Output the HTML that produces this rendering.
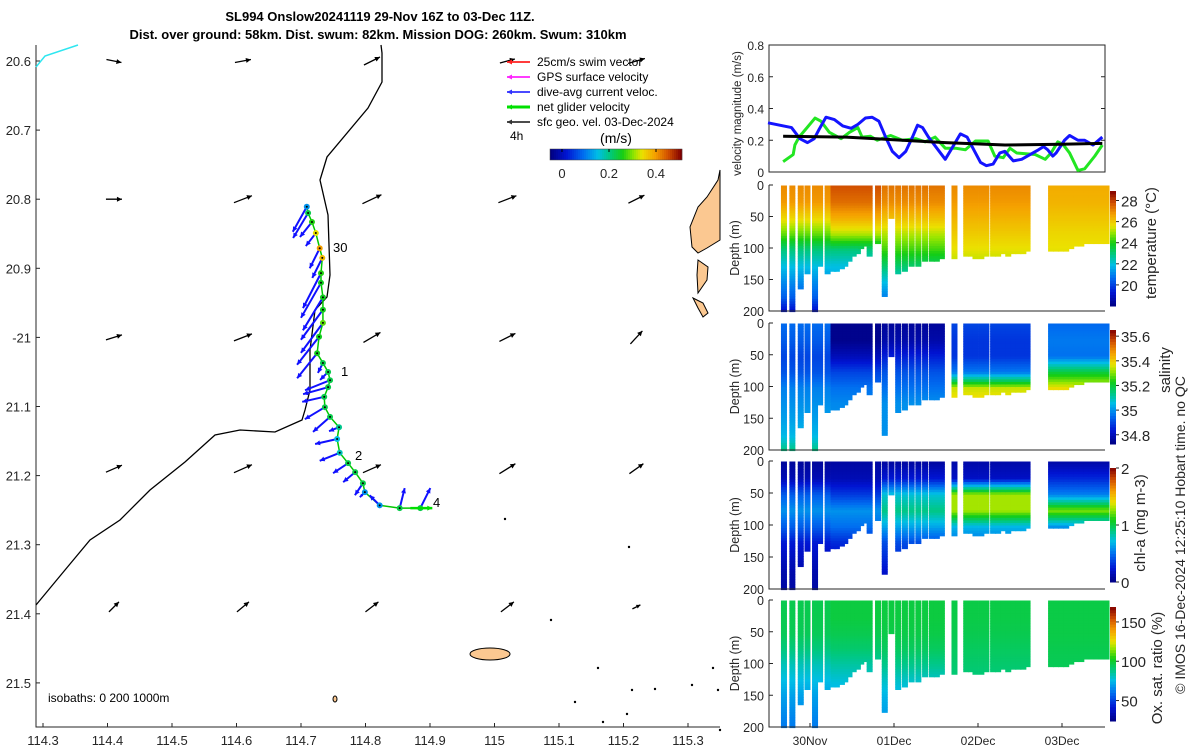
<!DOCTYPE html>
<html><head><meta charset="utf-8"><style>
body{margin:0;background:#fff;}
svg{display:block;font-family:"Liberation Sans",sans-serif;}
</style></head><body>
<svg id="svg" width="1200" height="750" viewBox="0 0 1200 750" xmlns="http://www.w3.org/2000/svg">
<g id="title" font-weight="bold" font-size="13" text-anchor="middle" fill="#000">
<text x="380" y="21">SL994 Onslow20241119 29-Nov 16Z to 03-Dec 11Z.</text>
<text x="378" y="39">Dist. over ground: 58km. Dist. swum: 82km. Mission DOG: 260km. Swum: 310km</text>
</g>
<g id="map"></g>
<g id="right"></g>
</svg>
<script>
// ---------- data ----------
const latTicks=[20.6,20.7,20.8,20.9,21.0,21.1,21.2,21.3,21.4,21.5];
const latTickLabels=["20.6","20.7","20.8","20.9","-21","21.1","21.2","21.3","21.4","21.5"];
const lonTicks=[114.3,114.4,114.5,114.6,114.7,114.8,114.9,115.0,115.1,115.2,115.3];
const lonTickLabels=["114.3","114.4","114.5","114.6","114.7","114.8","114.9","115","115.1","115.2","115.3"];
const trackLon=[114.709,114.711,114.717,114.723,114.729,114.733,114.731,114.731,114.734,114.734,114.734,114.728,114.725,114.734,114.742,114.745,114.742,114.736,114.737,114.745,114.759,114.756,114.760,114.773,114.784,114.796,114.799,114.822,114.853,114.885];
const trackLat=[20.811,20.820,20.833,20.849,20.871,20.885,20.907,20.921,20.942,20.960,20.979,20.999,21.023,21.037,21.050,21.062,21.072,21.086,21.101,21.115,21.130,21.147,21.167,21.182,21.195,21.211,21.224,21.243,21.247,21.247];
const currU=[-0.14,-0.15,-0.12,-0.1,-0.1,-0.1,-0.18,-0.2,-0.2,-0.22,-0.22,-0.22,-0.2,-0.05,-0.08,-0.25,-0.25,-0.22,-0.2,-0.17,-0.1,-0.22,-0.2,-0.15,-0.12,-0.08,-0.05,-0.1,0.05,0.1];
const currV=[-0.25,-0.25,-0.15,-0.13,-0.2,-0.2,-0.35,-0.35,-0.33,-0.3,-0.3,-0.28,-0.25,-0.1,-0.08,-0.1,-0.07,-0.05,-0.12,-0.15,-0.04,-0.05,-0.08,-0.1,-0.1,-0.12,-0.05,0.1,0.2,0.2];
const netSpeed=[0.15,0.25,0.28,0.35,0.4,0.38,0.28,0.27,0.27,0.27,0.3,0.27,0.27,0.25,0.25,0.25,0.25,0.25,0.25,0.25,0.22,0.18,0.2,0.25,0.25,0.25,0.15,0.15,0.25,0.25];
const geoLon=[114.41,114.61,114.81,115.02,115.22];
const geoLat=[20.6,20.8,21.0,21.19,21.39];
const geoU=[[0.15,0.16,0.16,0.15,0.17],[0.16,0.18,0.19,0.18,0.16],[0.16,0.18,0.17,0.16,0.12],[0.16,0.18,0.18,0.16,0.14],[0.1,0.12,0.13,0.13,0.08]];
const geoV=[[-0.03,0.03,0.08,0.04,0.05],[0,0.07,0.09,0.07,0.08],[0.05,0.07,0.1,0.08,0.13],[0.07,0.08,0.08,0.1,0.1],[0.1,0.1,0.1,0.1,0.04]];
// velocity time series (t = days since 29-Nov 00Z)
const blueT=[0.50,0.78,0.88,0.97,1.05,1.11,1.19,1.29,1.39,1.49,1.57,1.66,1.74,1.82,1.90,1.98,2.06,2.14,2.22,2.28,2.34,2.41,2.51,2.61,2.69,2.79,2.87,2.95,3.03,3.10,3.18,3.26,3.32,3.42,3.52,3.62,3.72,3.78,3.83,3.89,3.93,4.03,4.09,4.19,4.27,4.37,4.48];
const blueV=[0.31,0.28,0.21,0.185,0.21,0.27,0.345,0.33,0.29,0.275,0.30,0.34,0.345,0.32,0.22,0.13,0.09,0.13,0.22,0.295,0.28,0.22,0.15,0.08,0.15,0.24,0.22,0.14,0.06,0.04,0.05,0.12,0.13,0.07,0.08,0.11,0.14,0.16,0.14,0.10,0.12,0.20,0.23,0.20,0.20,0.17,0.22];
const greenT=[0.68,0.80,0.82,0.87,0.95,1.06,1.13,1.23,1.37,1.47,1.57,1.62,1.72,1.80,1.96,2.10,2.26,2.37,2.49,2.61,2.73,2.85,2.97,3.12,3.20,3.30,3.38,3.46,3.68,3.80,3.87,3.95,4.01,4.09,4.19,4.27,4.39,4.48];
const greenV=[0.065,0.11,0.17,0.22,0.27,0.34,0.32,0.25,0.21,0.25,0.28,0.22,0.225,0.20,0.23,0.20,0.21,0.19,0.22,0.15,0.15,0.14,0.195,0.195,0.10,0.09,0.15,0.12,0.11,0.08,0.12,0.19,0.175,0.12,0.01,0.02,0.10,0.17];
const geoT=[0.68,1.43,2.10,2.61,3.32,3.99,4.48];
const geoSeries=[0.225,0.22,0.20,0.185,0.17,0.175,0.18];
// glider casts
const castT=[0.69,0.79,0.89,0.97,1.06,1.12,1.21,1.28,1.32,1.38,1.42,1.47,1.52,1.57,1.61,1.66,1.71,1.81,1.89,1.97,2.05,2.13,2.21,2.29,2.37,2.45,2.51,2.57,2.72,2.86,2.92,2.97,3.04,3.10,3.18,3.24,3.30,3.36,3.42,3.48,3.54,3.59,3.87,3.93,3.99,4.05,4.11,4.17,4.23,4.29,4.35,4.41,4.47,4.53];
const castDepth=[200,200,162,140,200,125,138,133,135,130,125,118,110,105,100,95,112,92,176,50,140,133,128,127,120,120,118,115,113,110,112,113,113,110,110,110,108,110,107,106,105,104,103,103,103,102,98,95,93,92,92,91,90,90];
const segStart=[0,1.26,1.85,2.65,3.7];
const depthLevels=[0,25,50,75,100,125,150,175,200];
const tempProf=[[27.0,26.8,25.8,24.6,23,22,21.2,20.5,19],[27.8,27.4,26.5,25.2,23,22,21.5,21,20.5],[27.3,27.0,26.2,25.2,24.3,23.2,22,21,20],[27,26.8,26.4,26,25.6,25.2,24.5,24,23],[26.5,26.4,26.1,25.8,25.6,25.3,25,24.8,24.5]];
const salProf=[[34.95,34.93,34.9,34.92,34.98,35.0,35.02,35.05,35.15],[34.74,34.74,34.8,34.9,34.96,34.99,35.0,35.0,35.0],[34.76,34.78,34.85,34.92,34.96,35.0,35.0,35.0,35.0],[34.9,34.88,34.88,34.97,35.35,35.4,35.4,35.4,35.4],[34.95,34.97,34.96,35.2,35.38,35.4,35.4,35.4,35.4]];
const chlProf=[[0.08,0.15,0.45,0.6,0.45,0.25,0.18,0.12,0.1],[0.1,0.15,0.35,0.6,0.5,0.3,0.2,0.15,0.1],[0.1,0.25,0.75,0.9,0.65,0.4,0.3,0.2,0.1],[0.12,0.2,1.3,1.3,0.7,0.5,0.4,0.3,0.2],[0.12,0.3,0.55,1.25,0.6,0.5,0.4,0.3,0.2]];
const oxyProf=[[96,96,95,90,82,76,70,66,62],[98,98,96,92,85,78,72,68,65],[98,98,97,94,88,80,74,70,66],[97,97,96,94,92,90,88,86,84],[97,97,97,96,95,94,93,92,92]];
// coastline / land (pixel geometry)
const isobath=[[381,45],[382,53],[382,82],[368,108],[327,157],[320,180],[328,215],[330,275],[327,297],[315,310],[310,350],[310,390],[305,410],[302,420],[275,432],[240,430],[215,435],[185,462],[150,490],[120,520],[90,540],[65,570],[36,605]];
const cyanLine=[[36,67],[45,56],[78,45]];
const land1=[[720,170],[718,180],[707,197],[698,207],[690,227],[692,247],[698,253],[707,248],[720,240]];
const land2=[[698,260],[708,267],[707,280],[698,293],[697,275]];
const land3=[[693,298],[703,303],[708,313],[703,317],[698,308]];

// ---------- helpers ----------
const NS="http://www.w3.org/2000/svg";
function mk(tag,attrs,parent){const e=document.createElementNS(NS,tag);for(const k in attrs)e.setAttribute(k,attrs[k]);parent.appendChild(e);return e;}
const cmStops=[[0,[0,0,130]],[0.12,[0,20,210]],[0.25,[0,110,240]],[0.36,[0,190,230]],[0.45,[0,200,130]],[0.55,[20,205,20]],[0.64,[150,230,0]],[0.7,[235,225,0]],[0.8,[245,160,0]],[0.9,[210,80,0]],[1,[130,0,0]]];
function jet(v){v=Math.max(0,Math.min(1,v));for(let i=1;i<cmStops.length;i++){if(v<=cmStops[i][0]){const a=cmStops[i-1],b=cmStops[i],f=(v-a[0])/(b[0]-a[0]);return `rgb(${a[1].map((c,k)=>Math.round(c+(b[1][k]-c)*f)).join(',')})`;}}return 'rgb(130,0,0)';}
const map=document.getElementById('map');
const lonX=l=>43+(l-114.3)*645;
const latY=l=>61+(l-20.6)*691;
function arrow(parent,x,y,dx,dy,color,w,name){
  const g=mk('g',{},parent);
  
  
  const L=Math.hypot(dx,dy)||1,ux=dx/L,uy=dy/L,h=Math.min(5,L*0.45);
  mk('line',{x1:x,y1:y,x2:x+dx,y2:y+dy,stroke:color,'stroke-width':w},g);
  const tx=x+dx,ty=y+dy,bx=tx-ux*h,by=ty-uy*h;
  mk('polygon',{points:`${tx},${ty} ${bx-uy*h*0.5},${by+ux*h*0.5} ${bx+uy*h*0.5},${by-ux*h*0.5}`,fill:color},g);
}
// ---------- map ----------
mk('path',{d:'M36,45 V727 H720',fill:'none',stroke:'#262626','stroke-width':1,},map);
latTicks.forEach((v,i)=>{
  const y=latY(v);
  mk('line',{x1:36,y1:y,x2:40,y2:y,stroke:'#262626'},map);
  const t=mk('text',{x:31,y:y+5,'text-anchor':'end','font-size':13,fill:'#262626'},map);
  t.textContent=latTickLabels[i];
  
  
});
lonTicks.forEach((v,i)=>{
  const x=lonX(v);
  mk('line',{x1:x,y1:727,x2:x,y2:723,stroke:'#262626'},map);
  const t=mk('text',{x:x,y:745,'text-anchor':'middle','font-size':13,fill:'#262626'},map);
  t.textContent=lonTickLabels[i];
  
  
});
const pts=a=>a.map(p=>p.join(',')).join(' ');
mk('polyline',{points:pts(isobath),fill:'none',stroke:'#000','stroke-width':1.3,},map);
mk('polyline',{points:pts(cyanLine),fill:'none',stroke:'#2ee6f0','stroke-width':1.5,},map);
[land1,land2,land3].forEach(l=>{const p=mk('polygon',{points:pts(l),fill:'#fbc891',stroke:'#000','stroke-width':1},map);});
mk('ellipse',{cx:490,cy:654,rx:20,ry:6,fill:'#fbc891',stroke:'#000','stroke-width':1,},map);
mk('ellipse',{cx:335,cy:699,rx:2,ry:3,fill:'#fbc891',stroke:'#000','stroke-width':1,},map);
[[505,519],[551,620],[598,668],[629,547],[575,702],[603,722],[632,690],[655,689],[627,714],[692,685],[718,690],[713,668],[720,730]].forEach(p=>mk('circle',{cx:p[0],cy:p[1],r:1.2,fill:'#000',},map));
// geostrophic arrows
geoLat.forEach((la,r)=>geoLon.forEach((lo,c)=>{
  const dx=geoU[r][c]*100,dy=-geoV[r][c]*100;
  arrow(map,lonX(lo)-dx/2,latY(la)-dy/2,dx,dy,'#000',1.3,'geo-velocity-arrow');
}));
// track
const tx=trackLon.map(lonX),ty=trackLat.map(latY);
mk('polyline',{points:tx.map((x,i)=>x+','+ty[i]).join(' '),fill:'none',stroke:'#00c800','stroke-width':1.5,},map);
tx.forEach((x,i)=>arrow(map,x,ty[i],currU[i]*100,-currV[i]*100,'#1010ff',2,'dive-avg-current-arrow'));
tx.forEach((x,i)=>{const c=mk('circle',{cx:x,cy:ty[i],r:3,fill:jet(netSpeed[i]/0.5),stroke:'none'},map);mk('circle',{cx:x,cy:ty[i],r:1,fill:'#000'},map);});
arrow(map,tx[tx.length-1]-10,ty[ty.length-1],22,0,'#00e000',2.5,'net-glider-velocity-arrow');
[["30",333,252],["1",341,376],["2",355,460],["4",433,507]].forEach(a=>{const t=mk('text',{x:a[1],y:a[2],'font-size':13,fill:'#000'},map);t.textContent=a[0];});
// legend
const lg=mk('g',{},map);
[["25cm/s swim vector","#ff2020"],["GPS surface velocity","#ff20ff"],["dive-avg current veloc.","#3030ff"],["net glider velocity","#00e000"],["sfc geo. vel. 03-Dec-2024","#333"]].forEach((e,i)=>{
  const y=62+i*15;
  const g=mk('g',{},lg);
  
  
  arrow(g,530,y,-23,0,e[1],i==3?3:1.8,'legend-arrow');
  const t=mk('text',{x:537,y:y+4,'font-size':12,fill:'#000'},g);t.textContent=e[0];
});
const t4=mk('text',{x:510,y:140,'font-size':12,fill:'#000',},map);t4.textContent='4h';
const tu=mk('text',{x:616,y:143,'font-size':14,'text-anchor':'middle',fill:'#000',},map);tu.textContent='(m/s)';
for(let i=0;i<66;i++)mk('rect',{x:550+i*2,y:149,width:2.2,height:11,fill:jet(i/65)},map);
mk('rect',{x:550,y:149,width:132,height:11,fill:'none',stroke:'#444','stroke-width':0.5,},map);
[["0",562],["0.2",609],["0.4",656]].forEach(a=>{mk('line',{x1:a[1],y1:149,x2:a[1],y2:152,stroke:'#000'},map);const t=mk('text',{x:a[1],y:178,'font-size':13,'text-anchor':'middle',fill:'#262626'},map);t.textContent=a[0];});
const ti=mk('text',{x:48,y:702,'font-size':12,fill:'#000',},map);ti.textContent='isobaths: 0   200  1000m';

// ---------- right panels ----------
const R=document.getElementById('right');
const X0=769,X1=1105;
const tX=t=>810+(t-1)*84;
// velocity panel
const vTop=45,vBot=172,vy=v=>vBot-(v/0.8)*(vBot-vTop);
const vp=mk('g',{},R);
mk('rect',{x:X0,y:vTop,width:X1-X0,height:vBot-vTop,fill:'#fff',stroke:'#262626'},vp);
[0,0.2,0.4,0.6,0.8].forEach(v=>{const y=vy(v);mk('line',{x1:X0,y1:y,x2:X0+4,y2:y,stroke:'#262626'},vp);mk('line',{x1:X1,y1:y,x2:X1-4,y2:y,stroke:'#262626'},vp);const t=mk('text',{x:X0-5,y:y+5,'text-anchor':'end','font-size':12,fill:'#262626'},vp);t.textContent=v===0?'0':v.toFixed(1);});
const vl=mk('text',{transform:`translate(741,${(vTop+vBot)/2+5}) rotate(-90)`,'text-anchor':'middle','font-size':11.5,fill:'#262626',},vp);vl.textContent='velocity magnitude (m/s)';
const line=(T,V,c,w,n)=>{const p=mk('polyline',{points:T.map((t,i)=>tX(t)+','+vy(V[i])).join(' '),fill:'none',stroke:c,'stroke-width':w,'stroke-linejoin':'round'},vp);};
line(greenT,greenV,'#22e622',3,'net-velocity-line');
line(blueT,blueV,'#1414ff',3,'current-velocity-line');
line(geoT,geoSeries,'#000',3,'geo-velocity-line');
// section panels
const panels=[
 {name:'temperature',top:185,bot:311,prof:tempProf,vmin:18,vmax:28.9,cb:[191,306],ticks:[28,26,24,22,20],lab:'temperature (°C)',lx:1156,ly:243},
 {name:'salinity',top:323,bot:450,prof:salProf,vmin:34.725,vmax:35.65,cb:[330,444],ticks:[35.6,35.4,35.2,35,34.8],lab:'salinity',lx:1170,ly:370},
 {name:'chl-a',top:461,bot:589,prof:chlProf,vmin:0,vmax:2,cb:[468,582],ticks:[2,1,0],lab:'chl-a (mg m-3)',lx:1145,ly:523},
 {name:'oxygen',top:600,bot:727,prof:oxyProf,vmin:24,vmax:169,cb:[607,721],ticks:[150,100,50],lab:'Ox. sat. ratio (%)',lx:1162,ly:668}
];
function segOf(t){let s=0;for(let i=0;i<segStart.length;i++)if(t>=segStart[i])s=i;return s;}
function profVal(p,d){const k=Math.min(depthLevels.length-2,Math.floor(d/25));const f=(d-depthLevels[k])/25;return p[k]+(p[k+1]-p[k])*f;}
panels.forEach(P=>{
  const g=mk('g',{},R);
  
  
  const dy=d=>P.top+d/200*(P.bot-P.top);
  castT.forEach((t,i)=>{
    const s=segOf(t),x=tX(t);
    for(let d=0;d<castDepth[i];d+=4){
      const v=profVal(P.prof[s],d);
      mk('rect',{x:x-3,y:dy(d)+0.5,width:6,height:(P.bot-P.top)*4/200+0.6,fill:jet((v-P.vmin)/(P.vmax-P.vmin))},g);
    }
  });
  mk('path',{d:`M${X0},${P.top} V${P.bot} H${X1}`,fill:'none',stroke:'#262626'},g);
  [0,50,100,150,200].forEach(d=>{const y=dy(d);mk('line',{x1:X0,y1:y,x2:X0+4,y2:y,stroke:'#262626'},g);const t=mk('text',{x:X0-5,y:y+5,'text-anchor':'end','font-size':12.5,fill:'#262626'},g);t.textContent=d;});
  const yl=mk('text',{transform:`translate(739,${(P.top+P.bot)/2}) rotate(-90)`,'text-anchor':'middle','font-size':12.5,fill:'#262626'},g);yl.textContent='Depth (m)';
  // colorbar
  const cb=mk('g',{},g);
  
  
  const [c0,c1]=P.cb,n=40;
  for(let k=0;k<n;k++)mk('rect',{x:1110,y:c1-(k+1)*(c1-c0)/n,width:6,height:(c1-c0)/n+0.5,fill:jet((k+0.5)/n)},cb);
  P.ticks.forEach(v=>{const y=c1-(v-P.vmin)/(P.vmax-P.vmin)*(c1-c0);mk('line',{x1:1116,y1:y,x2:1119,y2:y,stroke:'#262626'},cb);const t=mk('text',{x:1121,y:y+6,'font-size':15,fill:'#262626'},cb);t.textContent=String(v);});
  const lb=mk('text',{transform:`translate(${P.lx},${P.ly}) rotate(-90)`,'text-anchor':'middle','font-size':15,fill:'#262626'},g);lb.textContent=P.lab;
});
// time axis
[["30Nov",1],["01Dec",2],["02Dec",3],["03Dec",4]].forEach(a=>{const x=tX(a[1]);mk('line',{x1:x,y1:727,x2:x,y2:723,stroke:'#262626'},R);const t=mk('text',{x:x,y:745,'text-anchor':'middle','font-size':12,fill:'#262626'},R);t.textContent=a[0];});
const cr=mk('text',{transform:'translate(1185,535) rotate(-90)','text-anchor':'middle','font-size':14,fill:'#262626',},R);cr.textContent='© IMOS 16-Dec-2024 12:25:10 Hobart time. no QC';
</script>
</body></html>
